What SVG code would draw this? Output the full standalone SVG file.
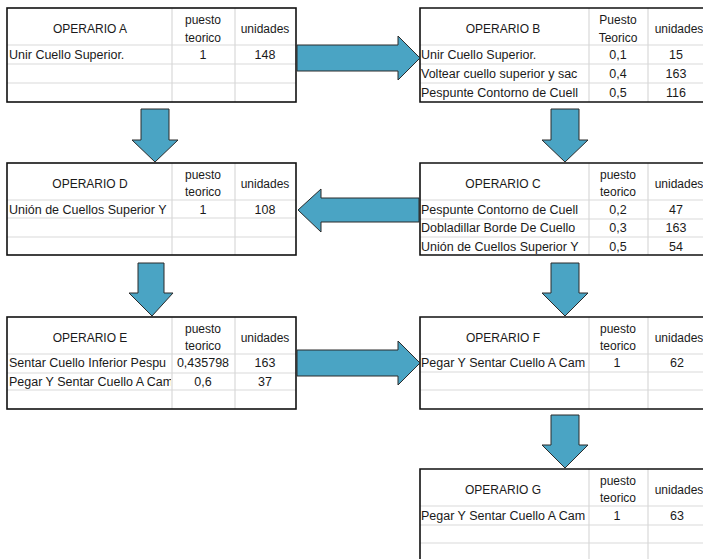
<svg xmlns="http://www.w3.org/2000/svg" width="703" height="559" viewBox="0 0 703 559">
<defs>
<style>
.grid{stroke:#d9d9d9;stroke-width:1.2;fill:none}
.border{stroke:#111;stroke-width:1.6;fill:none}
text{font-family:"Liberation Sans",Arial,sans-serif;font-size:12px;fill:#1a1a1a}
.d{font-size:12.5px}
.c{text-anchor:middle}
.arrow{fill:#4aa4c4;stroke:#2a2a2a;stroke-width:1}
</style>
<clipPath id="clipL" clipPathUnits="userSpaceOnUse"><rect x="0" y="0" width="164" height="94"/></clipPath>
<clipPath id="clipR" clipPathUnits="userSpaceOnUse"><rect x="0" y="0" width="168" height="94"/></clipPath>
</defs>
<rect width="703" height="559" fill="#ffffff"/>

<!-- OPERARIO A -->
<g id="opA" transform="translate(7,8)">
<path class="grid" d="M0,37H289M0,56H289M0,75H289M165,0V94M228,0V94"/>
<rect class="border" x="0" y="0" width="289" height="94"/>
<text class="c" x="83" y="25">OPERARIO A</text>
<text class="c" x="196" y="16">puesto</text>
<text class="c" x="196" y="34">teorico</text>
<text class="c" x="258" y="25">unidades</text>
<g clip-path="url(#clipL)"><text class="d" x="2" y="51">Unir Cuello Superior.</text></g>
<text class="c d" x="196" y="51">1</text>
<text class="c d" x="258" y="51">148</text>
</g>

<!-- OPERARIO B -->
<g id="opB" transform="translate(420,8)">
<path class="grid" d="M0,37H300M0,56H300M0,75H300M169,0V94M228,0V94"/>
<path class="border" d="M300,0H0V94H300"/>
<text class="c" x="83" y="25">OPERARIO B</text>
<text class="c" x="198" y="16">Puesto</text>
<text class="c" x="198" y="34">Teorico</text>
<text class="c" x="259" y="25">unidades</text>
<g clip-path="url(#clipR)">
<text class="d" x="1" y="51">Unir Cuello Superior.</text>
<text class="d" x="1" y="70">Voltear cuello superior y sac</text>
<text class="d" x="1" y="89">Pespunte Contorno de Cuell</text>
</g>
<text class="c d" x="198" y="51">0,1</text>
<text class="c d" x="198" y="70">0,4</text>
<text class="c d" x="198" y="89">0,5</text>
<text class="c d" x="256" y="51">15</text>
<text class="c d" x="256" y="70">163</text>
<text class="c d" x="256" y="89">116</text>
</g>

<!-- OPERARIO D -->
<g id="opD" transform="translate(7,163)">
<path class="grid" d="M0,37H289M0,55H289M0,74H289M165,0V92M228,0V92"/>
<rect class="border" x="0" y="0" width="289" height="92"/>
<text class="c" x="83" y="25">OPERARIO D</text>
<text class="c" x="196" y="16">puesto</text>
<text class="c" x="196" y="33">teorico</text>
<text class="c" x="258" y="25">unidades</text>
<g clip-path="url(#clipL)"><text class="d" x="2" y="51">Unión de Cuellos Superior Y</text></g>
<text class="c d" x="196" y="51">1</text>
<text class="c d" x="258" y="51">108</text>
</g>

<!-- OPERARIO C -->
<g id="opC" transform="translate(420,163)">
<path class="grid" d="M0,37H300M0,56H300M0,74H300M169,0V92M228,0V92"/>
<path class="border" d="M300,0H0V92H300"/>
<text class="c" x="83" y="25">OPERARIO C</text>
<text class="c" x="198" y="16">puesto</text>
<text class="c" x="198" y="33">teorico</text>
<text class="c" x="259" y="25">unidades</text>
<g clip-path="url(#clipR)">
<text class="d" x="1" y="51">Pespunte Contorno de Cuell</text>
<text class="d" x="1" y="69">Dobladillar Borde De Cuello</text>
<text class="d" x="1" y="88">Unión de Cuellos Superior Y</text>
</g>
<text class="c d" x="198" y="51">0,2</text>
<text class="c d" x="198" y="69">0,3</text>
<text class="c d" x="198" y="88">0,5</text>
<text class="c d" x="256" y="51">47</text>
<text class="c d" x="256" y="69">163</text>
<text class="c d" x="256" y="88">54</text>
</g>

<!-- OPERARIO E -->
<g id="opE" transform="translate(7,317)">
<path class="grid" d="M0,37H289M0,56H289M0,73H289M165,0V92M228,0V92"/>
<rect class="border" x="0" y="0" width="289" height="92"/>
<text class="c" x="83" y="25">OPERARIO E</text>
<text class="c" x="196" y="16">puesto</text>
<text class="c" x="196" y="33">teorico</text>
<text class="c" x="258" y="25">unidades</text>
<g clip-path="url(#clipL)">
<text class="d" x="2" y="50">Sentar Cuello Inferior Pespu</text>
<text class="d" x="2" y="69">Pegar Y Sentar Cuello A Cam</text>
</g>
<text class="c d" x="196" y="50">0,435798</text>
<text class="c d" x="196" y="69">0,6</text>
<text class="c d" x="258" y="50">163</text>
<text class="c d" x="258" y="69">37</text>
</g>

<!-- OPERARIO F -->
<g id="opF" transform="translate(420,317)">
<path class="grid" d="M0,37H300M0,55H300M0,73H300M169,0V92M228,0V92"/>
<path class="border" d="M300,0H0V92H300"/>
<text class="c" x="83" y="25">OPERARIO F</text>
<text class="c" x="198" y="16">puesto</text>
<text class="c" x="198" y="33">teorico</text>
<text class="c" x="259" y="25">unidades</text>
<g clip-path="url(#clipR)"><text class="d" x="1" y="50">Pegar Y Sentar Cuello A Cam</text></g>
<text class="c d" x="197" y="50">1</text>
<text class="c d" x="257" y="50">62</text>
</g>

<!-- OPERARIO G -->
<g id="opG" transform="translate(420,469)">
<path class="grid" d="M0,37H300M0,56H300M0,74H300M169,0V92M228,0V92"/>
<path class="border" d="M300,0H0V92H300"/>
<text class="c" x="83" y="25">OPERARIO G</text>
<text class="c" x="198" y="16">puesto</text>
<text class="c" x="198" y="33">teorico</text>
<text class="c" x="259" y="25">unidades</text>
<g clip-path="url(#clipR)"><text class="d" x="1" y="51">Pegar Y Sentar Cuello A Cam</text></g>
<text class="c d" x="197" y="51">1</text>
<text class="c d" x="257" y="51">63</text>
</g>

<!-- connectors -->
<g id="connectors">
<path class="arrow" d="M297,45H398V36L420,58L398,80V71H297Z"/>
<path class="arrow" d="M419,198H321V189L298,210L321,232V222H419Z"/>
<path class="arrow" d="M297,350H398V341L420,363L398,385V376H297Z"/>
<path class="arrow" d="M141,109H169V140H178L155,162L132,140H141Z"/>
<path class="arrow" d="M551,109H579V140H588L565,162L542,140H551Z"/>
<path class="arrow" d="M138,263H164V293H173L152,316L129,293H138Z"/>
<path class="arrow" d="M551,263H579V293H588L565,316L542,293H551Z"/>
<path class="arrow" d="M551,415H579V445H588L565,468L542,445H551Z"/>
</g>
</svg>
